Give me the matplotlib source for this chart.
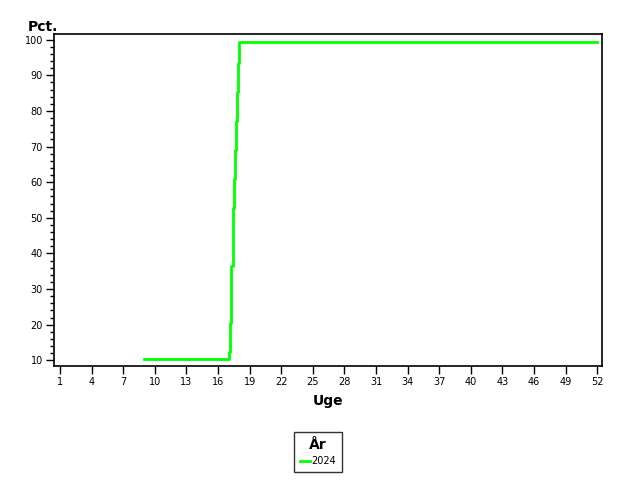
import matplotlib
matplotlib.use('Agg')
import matplotlib.pyplot as plt
from matplotlib.ticker import MultipleLocator

# weekly share (pct.) for 2024
weeks = [9, 17.02, 17.11, 17.21, 17.27, 17.37, 17.43, 17.52, 17.62,
         17.71, 17.81, 17.90, 18.00, 52]
pct = [10.5, 12.4, 20.4, 28.5, 36.5, 44.5, 52.7, 60.9, 69.0,
       77.2, 85.3, 93.4, 99.4, 99.4]
year_label = '2024'
xticks = list(range(1, 53, 3))
yticks = list(range(10, 101, 10))

plt.rcParams['font.family'] = ['DejaVu Sans']

fig = plt.figure(figsize=(6.4, 4.8), dpi=100)
ax = fig.add_axes([54 / 640, 1 - 366 / 480, (602 - 54) / 640, (366 - 34) / 480])

ax.plot(weeks, pct, drawstyle='steps-post', color='#00ff00', lw=2,
        label=year_label)

ax.set_xlim(0.42, 52.45)
ax.set_ylim(8.4, 101.6)
ax.set_xticks(xticks)
ax.set_yticks(yticks)
ax.yaxis.set_minor_locator(MultipleLocator(2))
ax.tick_params(axis='both', which='major', length=6, width=1,
               labelsize=7, pad=2)
ax.tick_params(axis='y', which='minor', length=3, width=1)
for sp in ax.spines.values():
    sp.set_linewidth(1.2)

ax.set_xlabel('Uge', fontsize=10, fontweight='bold', labelpad=5)
fig.text(28 / 640, 1 - 27 / 480, 'Pct.', fontsize=10, fontweight='bold',
         ha='left', va='center')

leg = fig.legend(loc='upper center', bbox_to_anchor=(318 / 640, 1 - 432 / 480),
                 title='År', fontsize=7, handlelength=1.0, handletextpad=0.15,
                 borderpad=0.6, borderaxespad=0, labelspacing=0.3,
                 frameon=True, fancybox=False)
leg.get_title().set_fontweight('bold')
leg.get_title().set_fontsize(10)
leg._legend_box.sep = 3
leg.get_frame().set_edgecolor('black')
leg.get_frame().set_linewidth(1)

fig.savefig('out.png', dpi=100)
